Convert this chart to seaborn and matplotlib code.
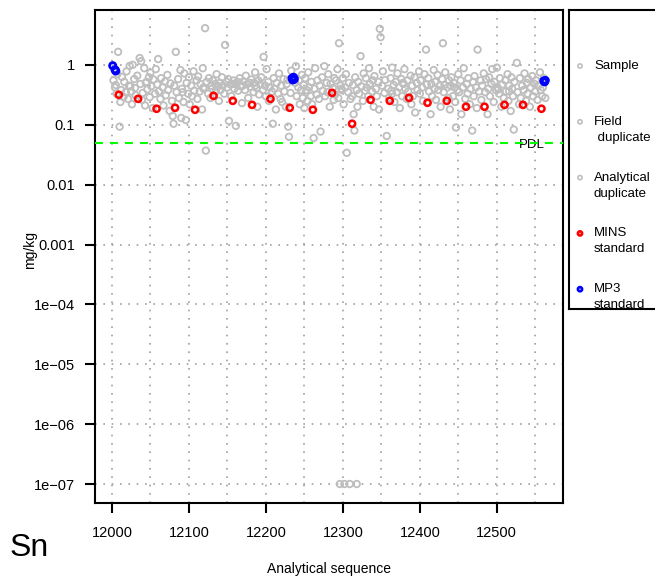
import numpy as np
import pandas as pd
import seaborn as sns
import matplotlib.pyplot as plt
from matplotlib.ticker import FixedLocator, FixedFormatter

# %%
# data (analytical sequence number, concentration in mg/kg)
sample_seq = [
    12002, 12004, 12005, 12006, 12007, 12008, 12010,
    12011, 12012, 12013, 12015, 12016, 12018, 12019,
    12021, 12022, 12023, 12025, 12026, 12027, 12029,
    12030, 12031, 12033, 12036, 12037, 12038, 12039,
    12040, 12042, 12043, 12045, 12046, 12048, 12049,
    12050, 12051, 12053, 12054, 12056, 12057, 12059,
    12060, 12061, 12063, 12064, 12066, 12067, 12069,
    12070, 12072, 12073, 12075, 12076, 12078, 12079,
    12080, 12081, 12083, 12084, 12086, 12087, 12089,
    12090, 12091, 12093, 12094, 12096, 12097, 12099,
    12100, 12101, 12103, 12104, 12106, 12107, 12110,
    12111, 12112, 12114, 12115, 12117, 12118, 12119,
    12121, 12122, 12123, 12125, 12126, 12128, 12129,
    12130, 12131, 12134, 12135, 12136, 12138, 12139,
    12140, 12141, 12143, 12144, 12146, 12147, 12149,
    12150, 12151, 12152, 12154, 12155, 12158, 12159,
    12160, 12161, 12163, 12164, 12166, 12167, 12169,
    12170, 12171, 12173, 12174, 12176, 12177, 12179,
    12180, 12181, 12184, 12185, 12186, 12188, 12189,
    12190, 12191, 12193, 12194, 12196, 12197, 12199,
    12200, 12201, 12203, 12204, 12205, 12208, 12209,
    12210, 12211, 12213, 12214, 12216, 12217, 12219,
    12220, 12221, 12223, 12224, 12226, 12227, 12229,
    12230, 12232, 12233, 12238, 12239, 12240, 12242,
    12243, 12244, 12246, 12247, 12248, 12249, 12250,
    12251, 12252, 12254, 12255, 12256, 12258, 12259,
    12260, 12262, 12263, 12264, 12266, 12267, 12269,
    12270, 12271, 12273, 12274, 12276, 12277, 12279,
    12280, 12281, 12283, 12284, 12287, 12288, 12289,
    12290, 12291, 12293, 12294, 12295, 12297, 12299,
    12300, 12301, 12303, 12304, 12305, 12307, 12308,
    12310, 12313, 12314, 12315, 12316, 12318, 12319,
    12320, 12321, 12323, 12324, 12326, 12327, 12329,
    12330, 12331, 12333, 12334, 12335, 12338, 12339,
    12340, 12341, 12343, 12344, 12346, 12347, 12348,
    12349, 12351, 12352, 12354, 12355, 12357, 12359,
    12360, 12362, 12363, 12364, 12366, 12367, 12369,
    12370, 12371, 12373, 12374, 12376, 12377, 12379,
    12380, 12381, 12383, 12384, 12385, 12388, 12389,
    12390, 12391, 12393, 12394, 12396, 12397, 12399,
    12400, 12401, 12403, 12404, 12406, 12408, 12409,
    12411, 12412, 12414, 12415, 12416, 12418, 12419,
    12420, 12421, 12423, 12424, 12426, 12427, 12429,
    12430, 12431, 12433, 12436, 12437, 12438, 12439,
    12440, 12441, 12443, 12444, 12446, 12447, 12449,
    12450, 12451, 12453, 12454, 12456, 12457, 12459,
    12461, 12462, 12463, 12465, 12466, 12468, 12469,
    12470, 12471, 12473, 12474, 12475, 12477, 12479,
    12480, 12481, 12483, 12485, 12486, 12488, 12489,
    12490, 12491, 12493, 12494, 12496, 12497, 12499,
    12500, 12501, 12503, 12504, 12506, 12507, 12509,
    12511, 12512, 12514, 12515, 12516, 12518, 12519,
    12520, 12521, 12522, 12523, 12526, 12527, 12529,
    12530, 12531, 12533, 12535, 12536, 12538, 12539,
    12540, 12541, 12543, 12544, 12546, 12547, 12549,
    12550, 12551, 12553, 12554, 12556, 12557, 12559,
    12560, 12561, 12563,
    12296, 12302, 12309, 12318,
]
sample_mgkg = [
    0.55, 0.42, 0.46, 0.33, 0.70, 1.65, 0.093,
    0.24, 0.38, 0.63, 0.29, 0.52, 0.35, 0.78,
    0.27, 0.45, 0.96, 0.36, 0.22, 1.0, 0.58,
    0.41, 0.31, 0.66, 1.3, 0.48, 1.15, 0.26,
    0.34, 0.88, 0.21, 0.52, 0.39, 0.62, 0.29,
    0.74, 0.44, 0.19, 0.57, 0.33, 0.85, 0.47,
    1.25, 0.36, 0.27, 0.60, 0.42, 0.21, 0.53,
    0.31, 0.68, 0.38, 0.17, 0.49, 0.25, 0.14,
    0.104, 0.45, 1.65, 0.35, 0.58, 0.28, 0.82,
    0.13, 0.40, 0.24, 0.72, 0.12, 0.50, 0.33,
    0.62, 0.22, 0.45, 0.30, 0.78, 0.37, 0.55,
    0.27, 0.64, 0.36, 0.48, 0.18, 0.88, 0.42,
    4.1, 0.037, 0.52, 0.33, 0.60, 0.28, 0.45,
    0.40, 0.55, 0.48, 0.36, 0.70, 0.44, 0.25,
    0.50, 0.38, 0.62, 0.45, 0.33, 2.15, 0.52,
    0.42, 0.58, 0.116, 0.47, 0.30, 0.55, 0.40,
    0.48, 0.096, 0.52, 0.37, 0.60, 0.44, 0.23,
    0.45, 0.53, 0.38, 0.66, 0.48, 0.28, 0.50,
    0.43, 0.57, 0.35, 0.50, 0.75, 0.41, 0.20,
    0.55, 0.32, 0.47, 0.62, 0.38, 1.36, 0.45,
    0.30, 0.85, 0.52, 0.25, 0.42, 0.36, 0.104,
    0.60, 0.40, 0.18, 0.50, 0.33, 0.72, 0.27,
    0.45, 0.24, 0.58, 0.36, 0.20, 0.48, 0.093,
    0.063, 0.34, 0.80, 0.50, 0.95, 0.30, 0.42,
    0.55, 0.22, 0.38, 0.68, 0.28, 0.46, 0.19,
    0.60, 0.35, 0.25, 0.75, 0.42, 0.30, 0.52,
    0.22, 0.060, 0.40, 0.88, 0.32, 0.55, 0.27,
    0.45, 0.077, 0.62, 0.37, 0.95, 0.30, 0.50,
    0.35, 0.70, 0.20, 0.48, 0.41, 0.26, 0.60,
    0.32, 0.55, 0.85, 0.28, 2.3, 0.45, 0.38,
    0.60, 0.22, 0.42, 0.70, 0.034, 0.35, 0.50,
    0.27, 0.46, 0.15, 0.080, 0.62, 0.38, 0.20,
    0.52, 0.33, 1.4, 0.44, 0.25, 0.72, 0.37,
    0.60, 0.42, 0.30, 0.88, 0.48, 0.36, 0.55,
    0.20, 0.65, 0.40, 0.30, 0.52, 0.18, 4.0,
    2.9, 0.45, 0.78, 0.34, 0.56, 0.065, 0.40,
    0.28, 0.60, 0.37, 0.90, 0.46, 0.24, 0.52,
    0.35, 0.72, 0.42, 0.19, 0.58, 0.30, 0.48,
    0.85, 0.40, 0.27, 0.55, 0.36, 0.66, 0.22,
    0.45, 0.30, 0.62, 0.16, 0.50, 0.38, 0.78,
    0.33, 0.55, 0.42, 0.25, 0.70, 1.8, 0.47,
    0.60, 0.36, 0.15, 0.48, 0.30, 0.82, 0.40,
    0.52, 0.26, 0.68, 0.38, 0.45, 0.20, 0.58,
    2.3, 0.35, 0.75, 0.42, 0.28, 0.55, 0.18,
    0.45, 0.62, 0.30, 0.50, 0.24, 0.090, 0.38,
    0.70, 0.35, 0.55, 0.15, 0.42, 0.88, 0.27,
    0.48, 0.33, 0.60, 0.22, 0.40, 0.080, 0.52,
    0.30, 0.65, 0.42, 0.19, 1.8, 0.36, 0.55,
    0.26, 0.45, 0.72, 0.35, 0.58, 0.15, 0.40,
    0.62, 0.30, 0.48, 0.85, 0.24, 0.52, 0.38,
    0.90, 0.42, 0.33, 0.60, 0.20, 0.47, 0.28,
    0.55, 0.36, 0.70, 0.25, 0.45, 0.17, 0.62,
    0.40, 0.30, 0.083, 0.52, 1.08, 0.35, 0.22,
    0.60, 0.28, 0.45, 0.38, 0.72, 0.25, 0.50,
    0.33, 0.58, 0.20, 0.42, 0.65, 0.30, 0.48,
    0.36, 0.55, 0.26, 0.45, 0.75, 0.38, 0.30,
    0.42, 0.60, 0.28,
    1e-07, 1e-07, 1e-07, 1e-07,
]
field_seq = [12044, 12119, 12186, 12253, 12312, 12378, 12445, 12516]
field_mgkg = [0.50, 0.40, 0.45, 0.38, 0.30, 0.50, 0.42, 0.36]
analytical_seq = [12024, 12092, 12157, 12228, 12298, 12364, 12432, 12502]
analytical_mgkg = [0.44, 0.35, 0.48, 0.56, 0.40, 0.33, 0.46, 0.39]

mins_seq = [12009, 12034, 12058, 12082, 12108, 12132, 12157, 12182, 12206,
            12231, 12261, 12286, 12312, 12336, 12361, 12386, 12410, 12435,
            12460, 12484, 12510, 12534, 12558]
mins_mgkg = [0.316, 0.271, 0.185, 0.192, 0.178, 0.304, 0.251, 0.215, 0.271,
             0.192, 0.178, 0.341, 0.104, 0.261, 0.251, 0.282, 0.233, 0.251,
             0.200, 0.200, 0.215, 0.215, 0.185]

mp3_seq = [12001, 12004, 12005, 12234, 12235, 12236, 12237, 12561, 12562, 12563]
mp3_mgkg = [0.97, 0.83, 0.79, 0.60, 0.56, 0.62, 0.58, 0.54, 0.52, 0.55]

pdl = 0.05
y_ticks = [1e-07, 1e-06, 1e-05, 1e-04, 0.001, 0.01, 0.1, 1]
y_tick_labels = ['1e\u221207', '1e\u221206', '1e\u221205', '1e\u221204',
                 '0.001', '0.01', '0.1', '1']
x_ticks = [12000, 12100, 12200, 12300, 12400, 12500]

legend_labels = [('Sample', ''), ('Field', ' duplicate'),
                 ('Analytical', 'duplicate'), ('MINS', 'standard'),
                 ('MP3', 'standard')]
gray = '#BEBEBE'
legend_colors = [gray, gray, gray, '#FF0000', '#0000FF']

# %%
sns.set_style('ticks')
plt.rcParams['font.family'] = ['Liberation Sans', 'DejaVu Sans']
plt.rcParams['text.color'] = 'black'

fig = plt.figure(figsize=(6.55, 5.81), dpi=100)
ax = fig.add_axes([95/655, 1-503/581, (563-95)/655, (503-10)/581])

# dotted grid like the R original
for gx in range(12000, 12560, 50):
    ax.axvline(gx, color='#A0A0A0', lw=1.2, ls=(0, (1, 4)), zorder=0)
for gy in y_ticks:
    ax.axhline(gy, color='#A0A0A0', lw=1.2, ls=(0, (1, 4)), zorder=0)

gray_df = pd.DataFrame({'seq': sample_seq + field_seq + analytical_seq,
                        'mgkg': sample_mgkg + field_mgkg + analytical_mgkg})
sns.scatterplot(data=gray_df, x='seq', y='mgkg', ax=ax, marker='o', s=22,
                color=gray, fc='none', ec=gray, linewidth=1.3, zorder=2)
sns.scatterplot(x=mins_seq, y=mins_mgkg, ax=ax, marker='o', s=20,
                color='#FF0000', fc='none', ec='#FF0000', linewidth=1.8, zorder=3)
sns.scatterplot(x=mp3_seq, y=mp3_mgkg, ax=ax, marker='o', s=20,
                color='#0000FF', fc='none', ec='#0000FF', linewidth=2.0, zorder=3)

ax.axhline(pdl, color='#00FF00', lw=1.5, ls=(0, (3.8, 3.4)), zorder=4)
ax.text(12545, pdl * 0.93, 'PDL', ha='center', va='center', fontsize=9.5,
        color='black')

ax.set_yscale('log')
ax.set_xlim(11978, 12586)
ax.set_ylim(4.82e-08, 8.25)
ax.yaxis.set_major_locator(FixedLocator(y_ticks))
ax.yaxis.set_major_formatter(FixedFormatter(y_tick_labels))
ax.yaxis.set_minor_locator(FixedLocator([]))
ax.set_xticks(x_ticks)
ax.set_xticklabels([str(t) for t in x_ticks])
ax.tick_params(axis='both', which='major', direction='out', length=7.5,
               width=1.5, color='black', labelsize=10.5, labelcolor='black',
               bottom=True, left=True, top=False, right=False)
ax.tick_params(axis='x', pad=9)
ax.tick_params(axis='y', pad=7)
ax.set_xlabel('')
ax.set_ylabel('')
for sp in ax.spines.values():
    sp.set_visible(True)
    sp.set_color('black')
    sp.set_linewidth(1.5)

fig.text(30/655, 1-250/581, 'mg/kg', rotation=90, ha='center', va='center',
         fontsize=10, color='black')
fig.text(329/655, 1-569/581, 'Analytical sequence', ha='center',
         va='center', fontsize=10, color='black')
fig.text(10/655, 1-556/581, 'Sn', ha='left', va='baseline', fontsize=23,
         color='black')

# hand drawn legend box on the right, running off the figure edge
lax = fig.add_axes([569/655, 1-309/581, 0.2, (309-10)/581])
lax.set_xlim(0, 131)
lax.set_ylim(299, 0)
lax.set_xticks([])
lax.set_yticks([])
for sp in lax.spines.values():
    sp.set_visible(True)
    sp.set_color('black')
    sp.set_linewidth(1.5)
for i, ((l1, l2), c) in enumerate(zip(legend_labels, legend_colors)):
    yy = 56 + i * 55.8
    lax.scatter([11], [yy], s=9, marker='o', fc='none', ec=c,
                linewidths=1.9 if c != gray else 1.2)
    lax.text(25, yy, l1, ha='left', va='center', fontsize=9.5, color='black')
    if l2:
        lax.text(25, yy + 16, l2, ha='left', va='center', fontsize=9.5,
                 color='black')

fig.savefig('out.png', dpi=100)
